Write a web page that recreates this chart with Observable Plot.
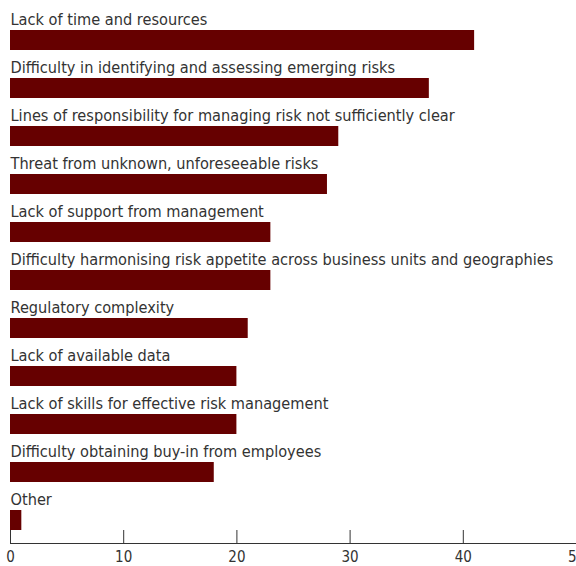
<!DOCTYPE html>
<html>
<head>
<meta charset="utf-8">
<script src="https://cdn.jsdelivr.net/npm/d3@7"></script>
<script src="https://cdn.jsdelivr.net/npm/@observablehq/plot@0.6"></script>
<style>
  html, body { margin: 0; padding: 0; background: #fff; }
  svg { display: block; }
</style>
</head>
<body>
<div id="chart"></div>
<script>
const categories = [
  "Lack of time and resources",
  "Difficulty in identifying and assessing emerging risks",
  "Lines of responsibility for managing risk not sufficiently clear",
  "Threat from unknown, unforeseeable risks",
  "Lack of support from management",
  "Difficulty harmonising risk appetite across business units and geographies",
  "Regulatory complexity",
  "Lack of available data",
  "Lack of skills for effective risk management",
  "Difficulty obtaining buy-in from employees",
  "Other"
];
const values = [41, 37, 29, 28, 23, 23, 21, 20, 20, 18, 1];
const xTicks = [0, 10, 20, 30, 40, 50];

const data = categories.map((c, i) => ({category: c, value: values[i]}));
const font = "'DejaVu Sans Condensed', 'DejaVu Sans', sans-serif";

const chart = Plot.plot({
  width: 576,
  height: 566,
  marginTop: 17,
  marginBottom: 23,
  marginLeft: 10,
  marginRight: 0,
  style: {fontFamily: font, fontSize: "15px", color: "#333", background: "#fff", overflow: "visible"},
  x: {domain: [0, 50], ticks: xTicks, label: null},
  y: {domain: categories, paddingInner: 0.5833, paddingOuter: 0.2708, axis: null},
  marks: [
    Plot.barX(data, {x: "value", y: "category", fill: "#660000"}),
    Plot.text(data, {
      x: 0, y: "category", text: "category",
      textAnchor: "start", lineAnchor: "bottom", dy: -16,
      fontSize: 16.2, fill: "#333"
    }),
    Plot.ruleX(xTicks, {x: d => d, insetTop: 513, stroke: "#333", strokeWidth: 1}),
    Plot.frame({anchor: "bottom", stroke: "#333"}),
    Plot.axisX({ticks: xTicks, tickSize: 0, tickPadding: 8, fontSize: 15, fill: "#333", tickFormat: d => d, label: null})
  ]
});
document.getElementById("chart").appendChild(chart);
</script>
</body>
</html>
